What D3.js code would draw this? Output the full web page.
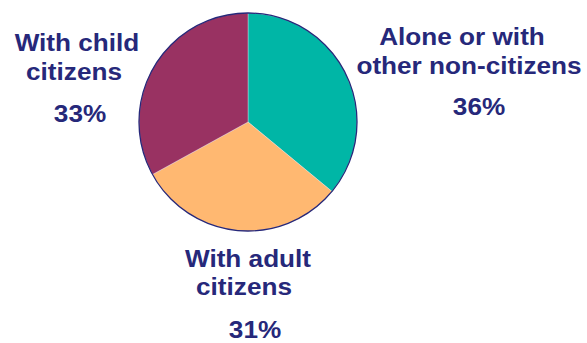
<!DOCTYPE html>
<html>
<head>
<meta charset="utf-8">
<script src="https://cdn.jsdelivr.net/npm/d3@7"></script>
<style>
  html, body { margin: 0; padding: 0; background: #ffffff; }
  svg { display: block; }
</style>
</head>
<body>
<svg id="chart" width="587" height="343"></svg>
<script>
// Living arrangements, clockwise from 12 o'clock
const categories = ["Alone or with other non-citizens", "With adult citizens", "With child citizens"];
const labelLines = [["Alone or with", "other non-citizens"], ["With adult", "citizens"], ["With child", "citizens"]];
const shares = [36, 31, 33];
const sliceColors = ["#00b6a6", "#ffb871", "#993262"];

// Label block placement (line centers and baselines)
const labelLayout = [
  { lines: [[462, 45], [469, 74]], pct: [479, 115] },
  { lines: [[248, 267], [244, 295]], pct: [255, 338] },
  { lines: [[77, 51], [74, 80]], pct: [80, 122] }
];

const ink = "#26287a";
const svg = d3.select("#chart");
const cx = 248, cy = 122, r = 109;

const pie = d3.pie().sort(null).value(d => d)(shares);
const arc = d3.arc().innerRadius(0).outerRadius(r);

const g = svg.append("g").attr("transform", `translate(${cx},${cy})`);
g.selectAll("path.slice")
  .data(pie)
  .join("path")
  .attr("class", "slice")
  .attr("d", arc)
  .attr("fill", (d, i) => sliceColors[i])
  .attr("stroke", "#e8e0e8")
  .attr("stroke-width", 0.4);

g.append("circle")
  .attr("r", r)
  .attr("fill", "none")
  .attr("stroke", ink)
  .attr("stroke-width", 1.3);

// Text labels
const font = "'Liberation Sans', Arial, Helvetica, sans-serif";
const stretch = 1.09;
function addText(x, y, str) {
  svg.append("text")
    .attr("transform", `translate(${x},${y}) scale(${stretch},1)`)
    .attr("text-anchor", "middle")
    .attr("font-family", font)
    .attr("font-weight", "bold")
    .attr("font-size", 24)
    .attr("fill", ink)
    .text(str);
}
categories.forEach((c, i) => {
  const L = labelLayout[i];
  labelLines[i].forEach((line, j) => addText(L.lines[j][0], L.lines[j][1], line));
  addText(L.pct[0], L.pct[1], shares[i] + "%");
});
</script>
</body>
</html>
